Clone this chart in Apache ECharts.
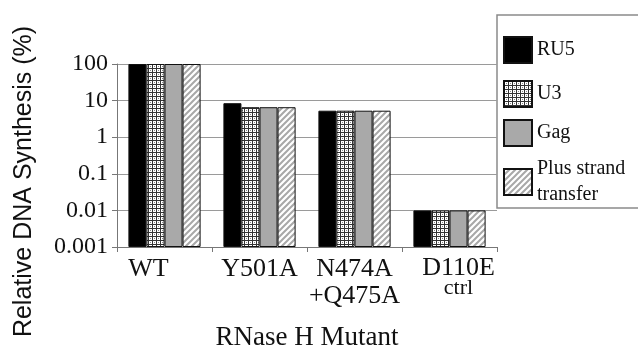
<!DOCTYPE html>
<html>
<head>
<meta charset="utf-8">
<script src="https://cdn.jsdelivr.net/npm/echarts@6/dist/echarts.min.js"></script>
<style>
  html, body { margin: 0; padding: 0; background: #fff; }
  #chart { width: 638px; height: 346px; }
</style>
</head>
<body>
<div id="chart"></div>
<script>
var mutants = ['WT', 'Y501A', 'N474A\n+Q475A', 'D110E\nctrl'];
var ru5 = [100, 8.5, 5.3, 0.01];
var u3 = [100, 6.6, 5.3, 0.01];
var gag = [100, 6.6, 5.3, 0.01];
var plusStrand = [100, 6.6, 5.3, 0.01];
var yTicks = ['0.001', '0.01', '0.1', '1', '10', '100'];

var serif = 'Liberation Serif';

// dotted fill
function dotPattern() {
	var c = document.createElement('canvas');
	c.width = 4; c.height = 4;
	var g = c.getContext('2d');
	g.fillStyle = '#ffffff';
	g.fillRect(0, 0, 4, 4);
	g.fillStyle = '#333333';
	g.fillRect(0, 0, 4, 1);
	g.fillRect(0, 0, 1, 4);
	g.fillStyle = '#888888';
	g.fillRect(2, 2, 1, 1);
	return c;
}
// diagonal hatch
function hatchPattern() {
	var c = document.createElement('canvas');
	c.width = 6; c.height = 6;
	var g = c.getContext('2d');
	g.fillStyle = '#ffffff';
	g.fillRect(0, 0, 6, 6);
	g.strokeStyle = '#a8a8a8';
	g.lineWidth = 2;
	g.beginPath();
	g.moveTo(-1, 7); g.lineTo(7, -1);
	g.moveTo(-4, 4); g.lineTo(4, -4);
	g.moveTo(2, 10); g.lineTo(10, 2);
	g.stroke();
	return c;
}

function barSeries(name, data, fill) {
	return {
		name: name,
		type: 'bar',
		data: data,
		barGap: '0%',
		barCategoryGap: '24%',
		itemStyle: { color: fill, borderColor: '#111', borderWidth: 1 }
	};
}

function legendFor(name, top, pad) {
	return {
		data: [name],
		left: 503,
		top: top,
		padding: 0,
		itemWidth: 28,
		itemHeight: 26,
		icon: 'rect',
		selectedMode: false,
		textStyle: { fontFamily: serif, fontSize: 20, color: '#111', lineHeight: 26, padding: [pad, 0, 0, 0] }
	};
}

var chart = echarts.init(document.getElementById('chart'));
chart.setOption({
	animation: false,
	backgroundColor: '#fff',
	grid: { left: 117, right: 141, top: 64, bottom: 99, containLabel: false, outerBoundsMode: 'none' },
	graphic: [{
		type: 'rect',
		shape: { x: 497, y: 15, width: 200, height: 193 },
		style: { fill: '#fff', stroke: '#8a8a8a', lineWidth: 1.5 },
		z: -1
	}],
	legend: [
		legendFor('RU5', 28, 18),
		legendFor('U3', 72, 18),
		legendFor('Gag', 111, 18),
		legendFor('Plus strand\ntransfer', 150, 12)
	],
	xAxis: {
		type: 'category',
		data: mutants,
		axisLine: { lineStyle: { color: '#777', width: 1 } },
		axisTick: { show: true, length: 5, lineStyle: { color: '#777' } },
		axisLabel: {
			interval: 0,
			hideOverlap: false,
			margin: 9,
			fontFamily: serif,
			fontSize: 26,
			lineHeight: 27,
			color: '#111',
			formatter: function (v, i) {
				var parts = v.split('\n');
				if (i === 0) return '{w|' + v + '}';
				if (parts[1] === 'ctrl') return '{m|' + parts[0] + '}\n{s|' + parts[1] + '}';
				return v;
			},
			rich: {
				w: { fontFamily: serif, fontSize: 26, lineHeight: 27, color: '#111', padding: [0, 32, 0, 0] },
				m: { fontFamily: serif, fontSize: 26, lineHeight: 24, color: '#111', padding: [0, 0, 0, 18] },
				s: { fontFamily: serif, fontSize: 22, lineHeight: 16, color: '#111', padding: [0, 0, 0, 18] }
			}
		},
		name: 'RNase H Mutant',
		nameLocation: 'middle',
		nameGap: 77,
		nameTextStyle: { fontFamily: serif, fontSize: 27, color: '#111' }
	},
	yAxis: {
		type: 'log',
		logBase: 10,
		min: 0.001,
		max: 100,
		startValue: 0.001,
		axisLine: { show: true, lineStyle: { color: '#777', width: 1 } },
		axisTick: { show: true, length: 5, lineStyle: { color: '#777' } },
		splitLine: { show: true, lineStyle: { color: '#9a9a9a', width: 1 } },
		axisLabel: {
			margin: 9,
			fontFamily: serif,
			fontSize: 24,
			color: '#111',
			formatter: function (v) {
				var i = Math.round(Math.log10(v)) + 3;
				return yTicks[i];
			}
		},
		name: 'Relative DNA Synthesis (%)',
		nameLocation: 'middle',
		nameGap: 80,
		nameTextStyle: { fontFamily: 'Liberation Sans', fontSize: 25, color: '#111', padding: [0, 52, 0, 0] }
	},
	series: [
		barSeries('RU5', ru5, '#000'),
		barSeries('U3', u3, { image: dotPattern(), repeat: 'repeat' }),
		barSeries('Gag', gag, '#a9a9a9'),
		barSeries('Plus strand\ntransfer', plusStrand, { image: hatchPattern(), repeat: 'repeat' })
	]
});
</script>
</body>
</html>
